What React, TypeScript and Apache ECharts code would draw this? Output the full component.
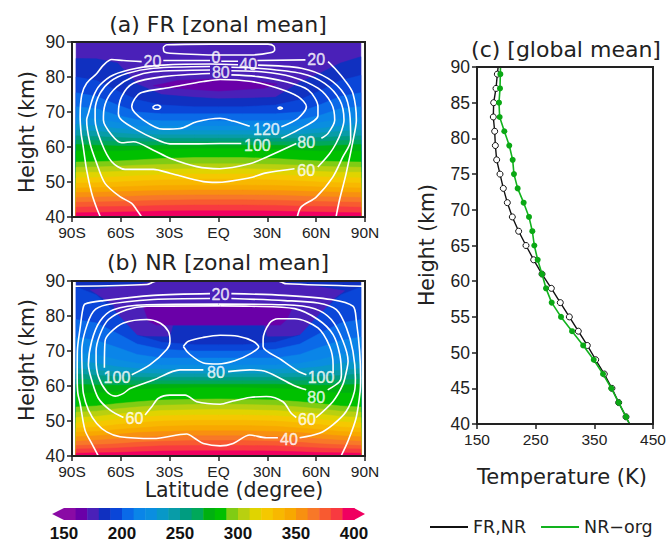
import React, { useEffect, useRef } from "react";
import * as echarts from "echarts";

type P = [number, number];

// ---- colour scale ----
const barLevels = [150,160,170,180,190,200,210,220,230,240,250,260,270,280,290,300,310,320,330,340,350,360,370,380,390];
const barColors = ["#8a0aa5","#6a00a8","#4a20b8","#1030c0","#0a46d8","#0a6ae8","#0a85e8","#0a8ee0","#0898c8","#089ca8","#009c80","#00a85a","#00b010","#00c000","#80cc14","#b8d010","#e0d400","#f5c800","#f8b800","#f8a800","#f89010","#f87828","#f85a30","#f83a40","#f00060"];
const barTicks = [150,200,250,300,350,400];

// ---- isotherm heights (km) at these latitudes ----
const isoLats = [-87.5,-75,-62,-50,-35,-15,0,15,35,50,62,75,87.5];

const isoA: Record<number, number[]> = {
  180:[85.3,85.2,84,78,75,74.2,73.8,73.9,74.2,78.5,81,84,85.8],
  190:[80,79,76,73.5,72,71.5,71.5,71.5,72,73.5,76,79,80.5],
  200:[75.5,74.5,72,70,69.5,69.5,69.5,69.5,69.5,70,72,74.5,75.5],
  210:[71.5,71,69,67.8,67.5,67.5,67.5,67.5,67.5,67.8,69,71,71.5],
  220:[68.5,68,67,66,66,66,66,66,66,66,67,68,68.5],
  230:[66.5,66,65.3,64.8,64.7,64.7,64.7,64.7,64.7,64.8,65.3,66,66.5],
  240:[64.8,64.5,64,63.6,63.5,63.5,63.5,63.5,63.5,63.6,64,64.5,64.8],
  250:[63.2,63,62.7,62.5,62.5,62.5,62.5,62.5,62.5,62.5,62.7,63,63.2],
  260:[62,61.8,61.6,61.5,61.5,61.5,61.5,61.5,61.5,61.5,61.6,61.8,62],
  270:[60.7,60.5,60.3,60.3,60.5,60.5,60.5,60.5,60.5,60.3,60.3,60.5,60.7],
  280:[58.8,58.8,58.8,59,59.3,59.5,59.5,59.5,59.3,59,58.8,58.8,58.8],
  290:[55.7,55.8,56,56.3,56.7,57,57,57,56.7,56.3,56,55.8,55.7],
  300:[54.2,54.3,54.5,54.8,55,55.2,55.2,55.2,55,54.8,54.5,54.3,54.2],
  310:[52.8,52.8,53,53.3,53.6,53.8,53.8,53.8,53.6,53.3,53,52.8,52.8],
  320:[51.2,51.3,51.5,51.8,52.1,52.3,52.3,52.3,52.1,51.8,51.5,51.3,51.2],
  330:[49.7,49.8,50,50.3,50.6,50.8,50.8,50.8,50.6,50.3,50,49.8,49.7],
  340:[48.3,48.4,48.6,48.8,49,49.1,49.1,49.1,49,48.8,48.6,48.4,48.3],
  350:[47,47.1,47.2,47.4,47.6,47.7,47.7,47.7,47.6,47.4,47.2,47.1,47],
  360:[45.6,45.7,45.8,46,46.2,46.3,46.3,46.3,46.2,46,45.8,45.7,45.6],
  370:[44.2,44.3,44.4,44.6,44.8,44.9,44.9,44.9,44.8,44.6,44.4,44.3,44.2],
  380:[42.8,42.9,43,43.1,43.3,43.4,43.4,43.4,43.3,43.1,43,42.9,42.8],
  390:[41.2,41.3,41.4,41.5,41.7,41.8,41.8,41.8,41.7,41.5,41.4,41.3,41.2],
};
const isoB: Record<number, number[]> = {
  190:[88.3,86,80.5,74.5,72.5,71.8,71.8,71.8,72.5,74.5,80.5,86,88.3],
  200:[79,78,75,72,70.5,70,70,70,70.5,72,75,78,79],
  210:[74,73,71,69,68,68,68,68,68,69,71,73,74],
  220:[69.5,69,67.5,66.5,66,66,66,66,66,66.5,67.5,69,69.5],
  230:[67,66.5,65.5,65,64.8,64.8,64.8,64.8,64.8,65,65.5,66.5,67],
  240:[65,64.5,64,63.7,63.5,63.5,63.5,63.5,63.5,63.7,64,64.5,65],
  250:[63.5,63,62.7,62.5,62.5,62.5,62.5,62.5,62.5,62.5,62.7,63,63.5],
  260:[62,61.7,61.5,61.5,61.5,61.5,61.5,61.5,61.5,61.5,61.5,61.7,62],
  270:[60.5,60.3,60.2,60.3,60.5,60.5,60.5,60.5,60.5,60.3,60.2,60.3,60.5],
  280:[58,58,58.3,59,59.3,59.5,59.5,59.5,59.3,59,58.3,58,58],
  290:[54,54.3,55,55.5,56,56.2,56.3,56.2,56,55.5,55,54.3,54],
  300:[52.5,52.8,53.5,54,54.5,54.7,54.8,54.7,54.5,54,53.5,52.8,52.5],
  310:[51,51.3,52,52.5,53,53.2,53.3,53.2,53,52.5,52,51.3,51],
  320:[49.5,49.8,50.5,51,51.5,51.7,51.7,51.7,51.5,51,50.5,49.8,49.5],
  330:[48,48.3,49,49.5,50,50.2,50.2,50.2,50,49.5,49,48.3,48],
  340:[46.8,47,47.6,48,48.5,48.7,48.7,48.7,48.5,48,47.6,47,46.8],
  350:[45.5,45.8,46.2,46.7,47,47.2,47.2,47.2,47,46.7,46.2,45.8,45.5],
  360:[44.2,44.5,44.9,45.3,45.6,45.8,45.8,45.8,45.6,45.3,44.9,44.5,44.2],
  370:[43,43.2,43.5,43.9,44.2,44.4,44.4,44.4,44.2,43.9,43.5,43.2,43],
  380:[42,42.1,42.3,42.6,42.9,43,43,43,42.9,42.6,42.3,42.1,42],
  390:[40.8,40.9,41,41.2,41.4,41.5,41.5,41.5,41.4,41.2,41,40.9,40.8],
};
// cold patches [lat, km]
const coldA160: P[] = [[-40,77.5],[-25,79],[0,79.5],[20,79],[36,78],[28,76.8],[0,76],[-28,76.8]];
const coldB170: P[] = [[-78.9,87.5],[-60,88.5],[-40,89.7],[-35,90],[35,90],[41,89.5],[60,88.5],[77.5,87.2],[71,85],[62,79.5],[58,75.3],[45,74.3],[30,74.2],[28,77.4],[-28,77.4],[-30,74.2],[-45,74.3],[-52.3,74.7],[-60.5,78.5],[-64.6,83.2]];
const coldB160: P[] = [[-46,82.5],[-43,78.5],[-38,77.4],[38,77.4],[42,79],[45,82],[30,83.2],[-30,83.2]];

// ---- contours, panel (a) ----
const a0Box: P[] = [[-33.9,88.5],[-31.8,89.2],[-5,89.4],[30.4,89.4],[34.1,88.8],[34.5,87.7],[32.5,87],[20,86.3],[0,86.3],[-29.8,86.8],[-33.3,87.2],[-33.9,88.5]];
const a20L: P[] = [[-47.2,84.4],[-58.4,84.7],[-65.6,85],[-70.7,83.4],[-74.8,81],[-81,78.2],[-84,74.9],[-85,68.7],[-84.4,63.9],[-83.4,61],[-81,53.4],[-77.9,46.8],[-74.8,42.5],[-72.5,40]];
const a20M: P[] = [[-33.9,84.7],[-5.2,84.7]];
const a20N: P[] = [[1.7,84.5],[12,84.5]];
const a20O: P[] = [[23.9,84.7],[53.4,84.9]];
const a20R: P[] = [[67.3,84.4],[71.4,82.5],[77.5,79.1],[82.6,75.3],[84.7,67.7],[83.5,63.8],[78.4,52.4],[74.3,44.8],[72.2,40]];
const a40: P[] = [[12,83.5],[-5.2,83.7],[-33.9,83.4],[-50.2,82.5],[-64.6,80.6],[-72.8,77.7],[-76.9,74.4],[-79.9,69.6],[-81,67.7],[-78.9,61],[-74.8,55.3],[-69.7,49.6],[-60.5,45.8],[-53.3,43.9],[-50.2,42],[-47.2,40]];
const a40R: P[] = [[24.3,83.4],[50.9,82.5],[67.3,79.6],[77.5,74.9],[80.6,69.6],[81.2,62],[76.3,57.1],[70.2,51.4],[60,45.7],[50.8,42.9],[48.4,40]];
const a60: P[] = [[-5.2,83],[-40,82.5],[-56.4,81],[-66.6,78.7],[-72.8,75.3],[-75.8,70.6],[-75.8,67.7],[-71.7,61],[-65.6,55.8],[-57.4,53.6],[-40,53.6],[-29.8,52.5],[-9.3,50.1],[-1.2,49.9],[19.2,51.2],[29.4,52.6],[46.7,53.8]];
const a60R: P[] = [[61,54.3],[68.2,58.1],[72.2,61],[75.5,64.5],[77.1,67.7],[74.5,73.4],[65.2,78.2],[50.9,81],[24.3,82.5],[7.9,82.8]];
const a80: P[] = [[-5.2,82],[-40,81.5],[-52.3,80.1],[-62.5,77.2],[-68.7,73.4],[-70.7,68.7],[-70.7,67.7],[-65.6,63.4],[-59.5,61.2],[-52.3,61.5],[-40,59.1],[-29.8,56.8],[-13.4,54.4],[0.8,53.8],[19.2,55.2],[29.4,57.1],[47.8,61]];
const a80R: P[] = [[63.2,62.5],[67.3,63.9],[71.4,67.7],[69.3,72.5],[61.1,76.8],[44.8,80.1],[26.3,81.5],[7.9,81.8]];
const a100: P[] = [[-5.2,81],[-33.9,80.1],[-52.3,78.2],[-59.5,74.4],[-61.5,69.6],[-59.5,67.7],[-50.2,64.9],[-40,62.5],[-29.8,60.9],[-15.5,60.9],[1,61],[14,61]];
const a100R: P[] = [[38.6,62.5],[48.9,64.9],[61.1,68.9],[61.1,71.5],[55,76.3],[40.7,78.7],[24.3,80.1],[7.9,80.6]];
const a120: P[] = [[19.2,65.9],[9,67.4],[1,68.2],[-13.4,67.2],[-23.6,65.3],[-33.9,65.1],[-46.1,67.7],[-53.3,71.5],[-51.3,73.9],[-47.2,75.6],[-29.8,77],[-9.3,78.7],[1,79.3],[20.2,78.7],[36.6,76.8],[48.9,74.4],[54,71.5],[48.9,68.2],[38.6,65.8]];
const a120blobL: P[] = [[-40.5,71.3],[-39,71.9],[-37.5,72],[-35.5,71.4],[-37,70.8],[-39,70.8],[-40.5,71.3]];
const a120blobR: P[] = [[36.3,71.1],[37.8,71.4],[39.3,71.1],[37.8,70.8],[36.3,71.1]];
const contoursA: P[][] = [a0Box,a20L,a20M,a20N,a20O,a20R,a40,a40R,a60,a60R,a80,a80R,a100,a100R,a120,a120blobL,a120blobR];
const labelsA: [number,number,string][] = [[-1.6,85.6,"0"],[-40.6,84.5,"20"],[18.2,83.5,"40"],[1.4,81.2,"80"],[60,85,"20"],[29.4,64.9,"120"],[23.9,60.3,"100"],[53.9,61.4,"80"],[53.9,53.3,"60"]];

// ---- contours, panel (b) ----
const b0L: P[] = [[-88.1,88.5],[-44,89],[-40,89.7],[-38,90]];
const b0R: P[] = [[37,90],[38.6,89.7],[41.7,89.2],[88.8,88.5]];
const b20L: P[] = [[-5.2,86.4],[-40,85.9],[-70.7,84.4],[-82,83.4],[-83.4,81.8],[-85,76.6],[-86.7,69.9],[-86.8,62.3],[-86.4,57.9],[-85,55],[-82,47.4],[-77.9,43.6],[-73.8,40]];
const b20R: P[] = [[7.9,86.4],[40.7,85.9],[69.3,84.7],[82.6,82.8],[84.7,78.5],[86.7,69.9],[87.3,62.3],[87,58.4],[84.5,50.8],[79.4,44.1],[75.3,40]];
const b40L: P[] = [[-5.2,85],[-40,84.7],[-68.7,83.2],[-76.9,81.3],[-82,75.6],[-84,69.9],[-83.6,62.3],[-83,57.9],[-79.9,53.1],[-74.8,49.3],[-68.7,46.9],[-60.5,45.5],[-40,45],[-19.5,46.3],[-14.4,45],[-9.3,43.6],[1,42.9],[9,43.6],[19.2,46],[29.4,45.2],[36.5,45.2]];
const b40R: P[] = [[49.8,45.2],[62,46.5],[70.2,48.9],[78.4,52.7],[83.5,58.4],[84.1,62.3],[82.6,69.9],[78.6,76.6],[72.4,81.8],[61.1,83.7],[40.7,84.4],[7.9,85]];
const b60L: P[] = [[0,83.4],[-44,83.2],[-64.6,81.8],[-72.8,78.5],[-77.9,72.8],[-79.9,66.1],[-77.9,61.7],[-73.8,56.5],[-66.6,53.1],[-58.4,51]];
const b60M: P[] = [[-45.1,51.7],[-41,54.1],[-36.9,56.5],[-29.8,57.4],[-20.5,57.4],[-13.4,55.5],[1,54.8],[9,55.7],[19.2,56.7],[29.4,57],[39.6,55.5],[44.7,52.2],[47.8,51]];
const b60R: P[] = [[60,51],[70.2,55.5],[76.3,60.3],[78.5,64],[79.6,67.1],[76.5,72.8],[69.3,79],[59.1,82.1],[40.7,83.2],[0,83.4]];
const b80L: P[] = [[1,82.9],[-44,82.8],[-56.4,81.8],[-67.6,79],[-72.8,74.7],[-75.2,69.9],[-75.2,67.4],[-73.8,62.7],[-68.7,58.4],[-63.5,57.1],[-58.4,57.9],[-54.3,59.3],[-40,61.7],[-23.6,64.6],[-9.3,64.6]];
const b80M: P[] = [[5.9,64.1],[19.2,64.6],[29.4,64.1],[45.7,60.3],[53.9,58.9]];
const b80R: P[] = [[67.1,58.9],[74.3,61.2],[75.5,63.2],[74.5,69],[70.4,74.7],[61.1,79],[46.8,82.1],[20.2,82.8],[1,82.9]];
const b100L: P[] = [[-70.1,65.2],[-69.7,72.8],[-66.6,75.2],[-58.4,78],[-44,79],[-35.9,78],[-30.8,75.6],[-29.8,72.8],[-31.8,70.4],[-42,66.1],[-53.3,63.2]];
const b100R: P[] = [[54,63.2],[48.9,64.2],[38.6,67.5],[27.4,71.3],[27.4,73.2],[31.4,78],[36.6,79.2],[46.8,79.2],[61.1,76.6],[68.3,71.3],[70.4,66.1],[70.4,63.7]];
const b100C: P[] = [[-21.6,71.3],[-18.5,72.8],[-9.3,73.9],[1,74.5],[12,74.2],[21.2,72.8],[24.7,71.2],[20.2,69.4],[10,67.2],[-0.3,66.3],[-9.3,66.6],[-17.5,69],[-21.6,71.3]];
const contoursB: P[][] = [b0L,b0R,b20L,b20R,b40L,b40R,b60L,b60M,b60R,b80L,b80M,b80R,b100L,b100R,b100C];
const labelsB: [number,number,string][] = [[1.2,86.2,"20"],[-62.4,62.4,"100"],[63,62.4,"100"],[-1.6,63.9,"80"],[60,56.7,"80"],[-51.6,50.6,"60"],[54.3,50.5,"60"],[43.3,44.8,"40"]];

// ---- panel (c) global mean ----
const heights = [89,87,85,83,81,79,77,75,73,71,69,67,65,63,61,59,57,55,53,51,49,47,45,43,41];
const tempFR = [184.7,182.4,178.4,177.8,180.1,181.3,183.5,189.2,194.9,201.7,210.2,221,233.5,246.6,260.8,276.7,292,307.4,322.7,338,352.3,367,380,391.5,404];
const tempOrg = [189.8,189.2,187.5,188.6,196.6,205,210.8,213,219.3,229.5,238.6,244.3,247.7,253.4,260.8,267.6,277.3,293.2,312,331,349,364.8,379,391.5,404];
const topT = { fr: 186, org: 190 };
const bottomT = { fr: 410, org: 410 };

const latTickLabels: Record<number,string> = { [-90]:"90S", [-60]:"60S", [-30]:"30S", 0:"EQ", 30:"30N", 60:"60N", 90:"90N" };

const INK = "#222";
const SANS = "Liberation Sans";
const WIDE = "DejaVu Sans";

function polyFromIso(row: number[]): P[] {
  const pts: P[] = isoLats.map((la, i) => [la, row[i]] as P);
  return [[isoLats[0], 40], ...pts, [isoLats[isoLats.length - 1], 40]];
}
function colorOf(level: number) { return barColors[barLevels.indexOf(level)]; }
function fullBox(): P[] { return [[-87.5,40],[-87.5,90],[87.5,90],[87.5,40]]; }

function fillSeries(gridIndex: number, polys: { pts: P[]; color: string }[]) {
  return {
    type: "custom", xAxisIndex: gridIndex, yAxisIndex: gridIndex, silent: true, z: 1, clip: true,
    data: polys.map((_, i) => [i]),
    renderItem: (params: any, api: any) => {
      const p = polys[params.dataIndex];
      return { type: "polygon", shape: { points: p.pts.map((q) => api.coord(q)) }, style: { fill: p.color, stroke: p.color, lineWidth: 0.5 } };
    },
  };
}

const axisLineStyle = { onZero: false, lineStyle: { color: INK, width: 2 } };

function latAxis(gridIndex: number) {
  return {
    type: "value", gridIndex, min: -90, max: 90, interval: 30, z: 6,
    splitLine: { show: false },
    axisLine: axisLineStyle,
    axisTick: { length: 5, lineStyle: { color: INK, width: 1.5 } },
    axisLabel: { color: "#222", fontFamily: SANS, fontSize: 15.5, margin: 7, formatter: (v: number) => latTickLabels[v] ?? "", showMinLabel: true, showMaxLabel: true, hideOverlap: false },
  };
}
function heightAxis(gridIndex: number, min: number, max: number, interval: number) {
  return {
    type: "value", gridIndex, min, max, interval, z: 6,
    splitLine: { show: false },
    axisLine: axisLineStyle,
    axisTick: { length: 5, lineStyle: { color: INK, width: 1.5 } },
    axisLabel: { color: "#222", fontFamily: SANS, fontSize: 17.5, margin: 7 },
  };
}

function contourSeries(gridIndex: number, lines: P[][], labels: [number,number,string][]) {
  const out: any[] = lines.map((pts) => ({
    type: "line", xAxisIndex: gridIndex, yAxisIndex: gridIndex, data: pts, showSymbol: false, symbol: "none",
    smooth: 0.3, silent: true, z: 3, lineStyle: { color: "#fff", width: 1.6 },
  }));
  out.push({
    type: "scatter", xAxisIndex: gridIndex, yAxisIndex: gridIndex, data: labels, symbolSize: 1, silent: true, z: 4,
    itemStyle: { color: "rgba(255,255,255,0)" },
    label: { show: true, position: "inside", color: "#fff", textBorderColor: "#fff", textBorderWidth: 0.4, fontFamily: SANS, fontSize: 16, lineHeight: 14, formatter: (p: any) => p.value[2] },
  });
  return out;
}

function profile(temps: number[], top: number, bottom: number) {
  return [
    { value: [top, 90], symbol: "none" },
    ...temps.map((t, i) => [t, heights[i]]),
    { value: [bottom, 40], symbol: "none" },
  ];
}

function axisText(text: string, x: number, y: number, fontSize: number, rotation = 0) {
  return {
    type: "text", x, y, rotation, z: 10,
    style: { text, fontFamily: WIDE, fontSize, fill: "#222", align: "center", verticalAlign: "middle" },
  };
}

export default function App() {
  const ref = useRef<HTMLDivElement>(null);
  useEffect(() => {
    const chart = echarts.init(ref.current!, undefined, { renderer: "svg" });

    const polysA = [
      { pts: fullBox(), color: colorOf(170) },
      { pts: coldA160, color: colorOf(160) },
      ...Object.keys(isoA).map(Number).sort((a, b) => a - b).map((l) => ({ pts: polyFromIso(isoA[l]), color: colorOf(l) })),
    ];
    const polysB = [
      { pts: fullBox(), color: colorOf(180) },
      { pts: coldB170, color: colorOf(170) },
      { pts: coldB160, color: colorOf(160) },
      ...Object.keys(isoB).map(Number).sort((a, b) => a - b).map((l) => ({ pts: polyFromIso(isoB[l]), color: colorOf(l) })),
    ];

    const tstyle = { fontFamily: WIDE, fontSize: 22, fontWeight: "normal" as const, color: "#222" };
    chart.setOption({
      animation: false,
      backgroundColor: "#fff",
      title: [
        { text: "(a) FR [zonal mean]", left: 218, top: 13, padding: 0, textAlign: "center", textStyle: tstyle },
        { text: "(b) NR [zonal mean]", left: 218, top: 251, padding: 0, textAlign: "center", textStyle: tstyle },
        { text: "(c) [global mean]", left: 566, top: 38, padding: 0, textAlign: "center", textStyle: tstyle },
      ],
      graphic: [
        axisText("Height (km)", 27, 132, 20.5, Math.PI / 2),
        axisText("Height (km)", 27, 360, 20.5, Math.PI / 2),
        axisText("Height (km)", 427, 245, 20.5, Math.PI / 2),
        axisText("Latitude (degree)", 234, 490, 20.5),
        axisText("Temperature (K)", 562, 477, 21),
      ],
      grid: [
        { left: 72, top: 42, width: 293, height: 175, show: true, borderColor: INK, borderWidth: 2, backgroundColor: "transparent", z: 5 },
        { left: 72, top: 281, width: 293, height: 175, show: true, borderColor: INK, borderWidth: 2, backgroundColor: "transparent", z: 5 },
        { left: 477, top: 67, width: 176, height: 357, show: true, borderColor: INK, borderWidth: 2, backgroundColor: "transparent", z: 5 },
        { left: 64, top: 508, width: 290, height: 13 },
      ],
      xAxis: [
        latAxis(0),
        latAxis(1),
        {
          type: "value", gridIndex: 2, min: 150, max: 450, interval: 100, z: 6, splitLine: { show: false },
          axisLine: axisLineStyle,
          axisTick: { length: 5, lineStyle: { color: INK, width: 1.5 } },
          axisLabel: { color: "#222", fontFamily: SANS, fontSize: 15.5, margin: 7 },
        },
        {
          type: "value", gridIndex: 3, min: 150, max: 400, interval: 50, splitLine: { show: false },
          axisLine: { show: false, onZero: false }, axisTick: { show: false },
          axisLabel: { color: "#111", fontFamily: SANS, fontSize: 17, fontWeight: "bold", margin: 5, customValues: barTicks, showMinLabel: true, showMaxLabel: true },
        },
      ],
      yAxis: [
        heightAxis(0, 40, 90, 10),
        heightAxis(1, 40, 90, 10),
        heightAxis(2, 40, 90, 5),
        { type: "value", gridIndex: 3, min: 0, max: 1, show: false },
      ],
      legend: {
        left: 430, top: 518, padding: 0, itemWidth: 38, itemHeight: 2, itemGap: 15, icon: "rect", selectedMode: false,
        textStyle: { color: "#222", fontFamily: WIDE, fontSize: 17.5 },
        data: [
          { name: "FR,NR", itemStyle: { color: "#111", borderWidth: 0 } },
          { name: "NR−org", itemStyle: { color: "#12b21e", borderWidth: 0 } },
        ],
      },
      series: [
        fillSeries(0, polysA),
        fillSeries(1, polysB),
        ...contourSeries(0, contoursA, labelsA),
        ...contourSeries(1, contoursB, labelsB),
        {
          type: "line", name: "FR,NR", xAxisIndex: 2, yAxisIndex: 2, data: profile(tempFR, topT.fr, bottomT.fr),
          symbol: "circle", symbolSize: 6, showAllSymbol: true, z: 3, silent: true,
          lineStyle: { color: "#111", width: 1.4 }, itemStyle: { color: "#fff", borderColor: "#111", borderWidth: 1 },
        },
        {
          type: "line", name: "NR−org", xAxisIndex: 2, yAxisIndex: 2, data: profile(tempOrg, topT.org, bottomT.org),
          symbol: "circle", symbolSize: 6, showAllSymbol: true, z: 4, silent: true,
          lineStyle: { color: "#12b21e", width: 1.6 }, itemStyle: { color: "#0aa814", borderColor: "#0aa814", borderWidth: 0 },
        },
        {
          type: "custom", xAxisIndex: 3, yAxisIndex: 3, silent: true, clip: false, z: 2,
          data: barLevels.map((l) => [l]),
          renderItem: (params: any, api: any) => {
            const lo = barLevels[params.dataIndex];
            const a = api.coord([lo, 0]);
            const b = api.coord([lo + 10, 1]);
            return { type: "rect", shape: { x: a[0], y: b[1], width: b[0] - a[0] + 0.5, height: a[1] - b[1] }, style: { fill: barColors[params.dataIndex] } };
          },
        },
        {
          type: "custom", xAxisIndex: 3, yAxisIndex: 3, silent: true, clip: false, z: 2,
          data: [[0], [1]],
          renderItem: (params: any, api: any) => {
            const left = params.dataIndex === 0;
            const base = left ? 150 : 400;
            const tip = left ? 139.7 : 409.5;
            const pts = [api.coord([base, 0]), api.coord([tip, 0.5]), api.coord([base, 1])];
            return { type: "polygon", shape: { points: pts }, style: { fill: left ? barColors[0] : barColors[barColors.length - 1] } };
          },
        },
      ],
    });
    return () => chart.dispose();
  }, []);
  return <div ref={ref} style={{ position: "absolute", left: 0, top: 0, width: 669, height: 542 }} />;
}
